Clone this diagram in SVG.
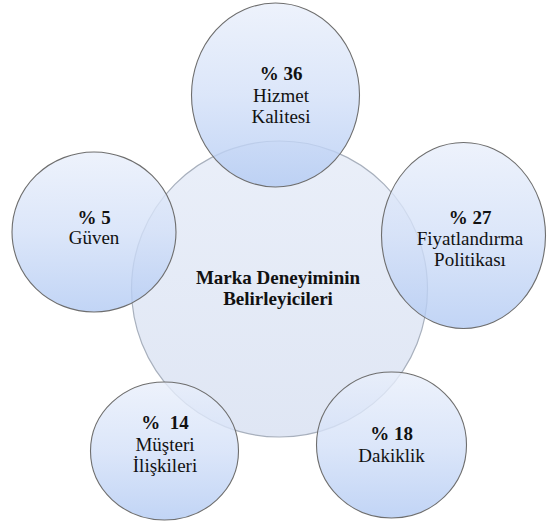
<svg xmlns="http://www.w3.org/2000/svg" width="547" height="523" viewBox="0 0 547 523">
<defs>
<linearGradient id="gOuter" x1="0" y1="0" x2="0" y2="1">
<stop offset="0" stop-color="#e9effb"/>
<stop offset="0.5" stop-color="#d3e0f8"/>
<stop offset="1" stop-color="#b2caf3"/>
</linearGradient>
<linearGradient id="gCenter" x1="0" y1="0" x2="0" y2="1">
<stop offset="0" stop-color="#eaeff9"/>
<stop offset="1" stop-color="#dfe6f4"/>
</linearGradient>
</defs>
<style>
.center{fill:url(#gCenter);stroke:#a8b0bd;stroke-width:1.2;}
.outer{fill:url(#gOuter);fill-opacity:0.8;stroke:#6e6e6e;stroke-width:1.1;}
.t{font-family:'Liberation Serif','DejaVu Serif','Noto Serif','Times New Roman',Times,'Nimbus Roman','FreeSerif',Georgia,serif;font-size:19px;fill:#111;text-anchor:middle;}
.b{font-weight:bold;}
</style>
<g id="center-node">
<circle class="center" cx="279.5" cy="289" r="148"/>
<text class="t b" x="278" y="284">Marka Deneyiminin</text>
<text class="t b" x="278" y="305">Belirleyicileri</text>
</g>
<g id="node-hizmet">
<ellipse class="outer" cx="275.5" cy="95" rx="84" ry="92"/>
<text class="t b" x="281" y="80">% 36</text>
<text class="t" x="281" y="101.5">Hizmet</text>
<text class="t" x="281" y="122.5">Kalitesi</text>
</g>
<g id="node-guven">
<ellipse class="outer" cx="94" cy="232" rx="82" ry="80"/>
<text class="t b" x="94" y="224">% 5</text>
<text class="t" x="94" y="244">Güven</text>
</g>
<g id="node-fiyat">
<ellipse class="outer" cx="463.5" cy="235.5" rx="82" ry="93"/>
<text class="t b" x="470" y="224">% 27</text>
<text class="t" x="470" y="245">Fiyatlandırma</text>
<text class="t" x="470" y="266">Politikası</text>
</g>
<g id="node-musteri">
<ellipse class="outer" cx="164.5" cy="451" rx="74" ry="69"/>
<text class="t b" x="165" y="429" xml:space="preserve">%  14</text>
<text class="t" x="165" y="450.5">Müşteri</text>
<text class="t" x="165" y="471.5">İlişkileri</text>
</g>
<g id="node-dakiklik">
<ellipse class="outer" cx="391.5" cy="445" rx="75" ry="73"/>
<text class="t b" x="391.5" y="440">% 18</text>
<text class="t" x="391.5" y="461.5">Dakiklik</text>
</g>
<g id="connectors"/>
</svg>
